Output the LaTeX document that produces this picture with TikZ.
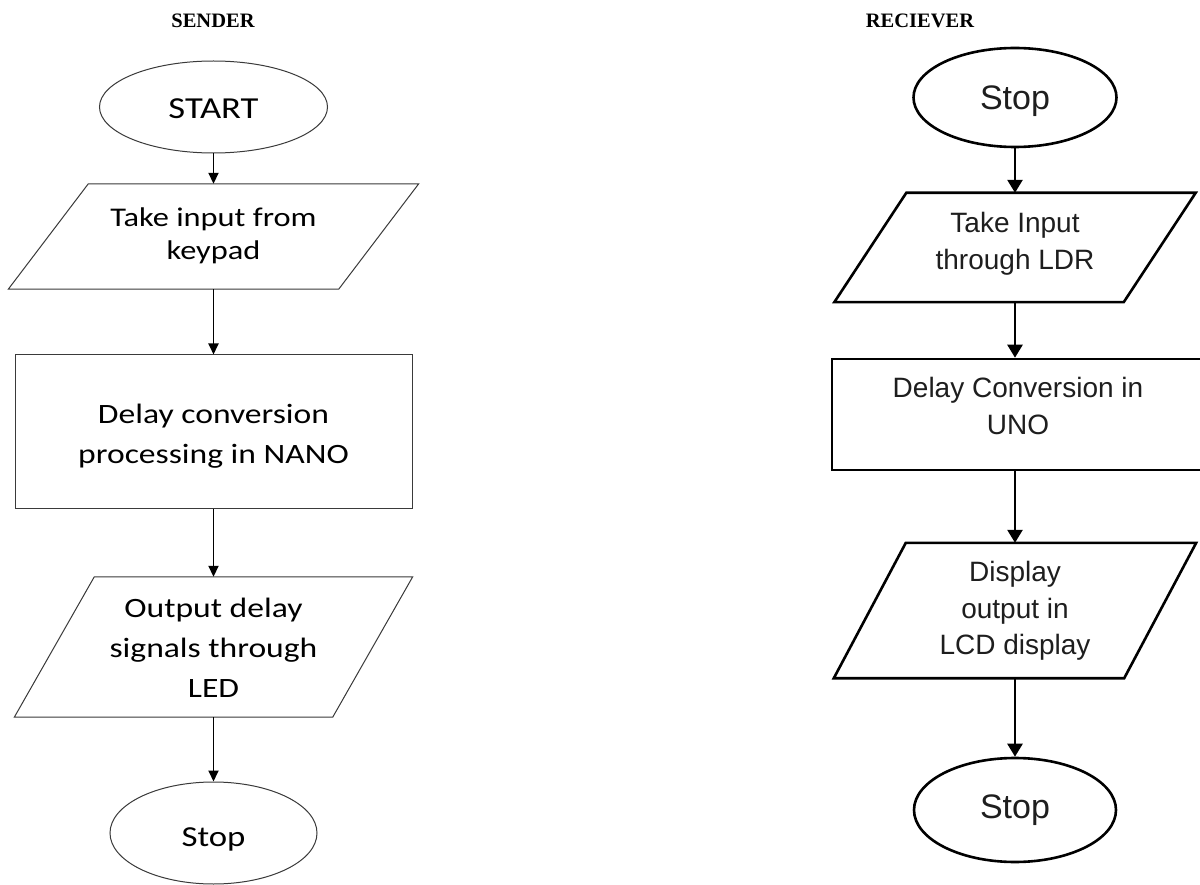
\documentclass[tikz,border=0pt]{standalone}
\usepackage{fontspec}
\setmainfont{Liberation Serif}
\newfontfamily\lfont[FakeStretch=1.2]{Carlito}
\newfontfamily\rfont{Liberation Sans}
\usetikzlibrary{shapes.geometric,arrows.meta}
\definecolor{lgray}{HTML}{3A3A3A}
\definecolor{rtext}{HTML}{1E1E1E}
\newcommand\myTop[1]{\rule{0pt}{#1pt}}
\newcommand\myBot[1]{\rule[-#1pt]{0pt}{#1pt}}
\begin{document}
\begin{tikzpicture}[x=1pt,y=-1pt,
  lshape/.style={draw=lgray, line width=1pt},
  rshape/.style={draw=black, line width=2.6pt},
  larrow/.style={-{Triangle[length=11pt,width=10pt]}, line width=1.8pt},
  rarrow/.style={-{Triangle[length=13pt,width=15pt]}, line width=2.6pt},
  ltext/.style={font=\lfont\fontsize{28}{40}\selectfont, align=center, text=black, inner sep=0pt},
  rtxt/.style={font=\rfont\fontsize{28}{37}\selectfont, align=center, text=rtext, inner sep=0pt},
  title/.style={font=\bfseries\fontsize{20.5}{24}\selectfont, inner sep=0pt},
]
\clip (0,0) rectangle (1200,885);
\fill[white] (0,0) rectangle (1200,885);

% titles
\node[title] (t1) at (213,21) {SENDER};
\node[title] (t2) at (920,21) {RECIEVER};

% ---------------- sender column ----------------
\node[ltext, font=\lfont\fontsize{30.5}{36}\selectfont, ellipse, lshape,
      minimum width=228pt, minimum height=92pt] (s1) at (213.5,107) {\myTop{30}START\myBot{6}};
\node[ltext, font=\lfont\fontsize{27}{33}\selectfont,
      minimum width=410pt, minimum height=105pt] (s2) at (213.5,236.5)
   {\myTop{22}Take input from\\keypad\myBot{8}};
\draw[lshape] ([xshift=80pt]s2.north west) -- (s2.north east)
   -- ([xshift=-80pt]s2.south east) -- (s2.south west) -- cycle;
\node[ltext, rectangle, lshape, minimum width=397pt, minimum height=153pt] (s3) at (213.5,431.5)
   {\myTop{30}Delay conversion\\processing in NANO\myBot{7}};
\node[ltext, minimum width=398pt, minimum height=140pt] (s4) at (213.5,647)
   {\myTop{27}Output delay\\signals through\\LED\myBot{6.5}};
\draw[lshape] ([xshift=80pt]s4.north west) -- (s4.north east)
   -- ([xshift=-80pt]s4.south east) -- (s4.south west) -- cycle;
\node[ltext, font=\lfont\fontsize{29}{34}\selectfont, ellipse, lshape,
      minimum width=207pt, minimum height=102pt] (s5) at (213.5,833) {\myTop{33.4}Stop\myBot{6}};

\draw[larrow] (s1.south) -- (s2.north);
\draw[larrow] (s2.south) -- (s3.north);
\draw[larrow] (s3.south) -- (s4.north);
\draw[larrow] (s4.south) -- (s5.north);

% ---------------- receiver column ----------------
\node[rtxt, font=\rfont\fontsize{34}{40}\selectfont, ellipse, rshape,
      minimum width=203pt, minimum height=99pt] (r1) at (1015,97.5) {\myTop{32.5}Stop\myBot{7.5}};
\node[rtxt, minimum width=361pt, minimum height=109pt] (r2) at (1015,247.5)
   {\myTop{22}Take Input\\through LDR\myBot{14}};
\draw[rshape, line join=miter] ([xshift=72pt]r2.north west) -- (r2.north east)
   -- ([xshift=-72pt]r2.south east) -- (r2.south west) -- cycle;
\node[rtxt, rectangle, rshape, minimum width=372pt, minimum height=111pt] (r3) at (1018,414.5)
   {\myTop{25}Delay Conversion in\\UNO\myBot{23}};
\node[rtxt, font=\rfont\fontsize{28}{36.5}\selectfont, minimum width=362pt, minimum height=135pt] (r4) at (1015,610.5)
   {\myTop{22}Display\\output in\\LCD display\myBot{6.5}};
\draw[rshape, line join=miter] ([xshift=72pt]r4.north west) -- (r4.north east)
   -- ([xshift=-72pt]r4.south east) -- (r4.south west) -- cycle;
\node[rtxt, font=\rfont\fontsize{34}{40}\selectfont, ellipse, rshape,
      minimum width=202pt, minimum height=104pt] (r5) at (1015,810) {\myTop{26}Stop\myBot{9.4}};

\draw[rarrow] (r1.south) -- (r2.north);
\draw[rarrow] (r2.south) -- (r2.south |- r3.north);
\draw[rarrow] (r2.south |- r3.south) -- (r4.north);
\draw[rarrow] (r4.south) -- (r5.north);
\end{tikzpicture}
\end{document}
